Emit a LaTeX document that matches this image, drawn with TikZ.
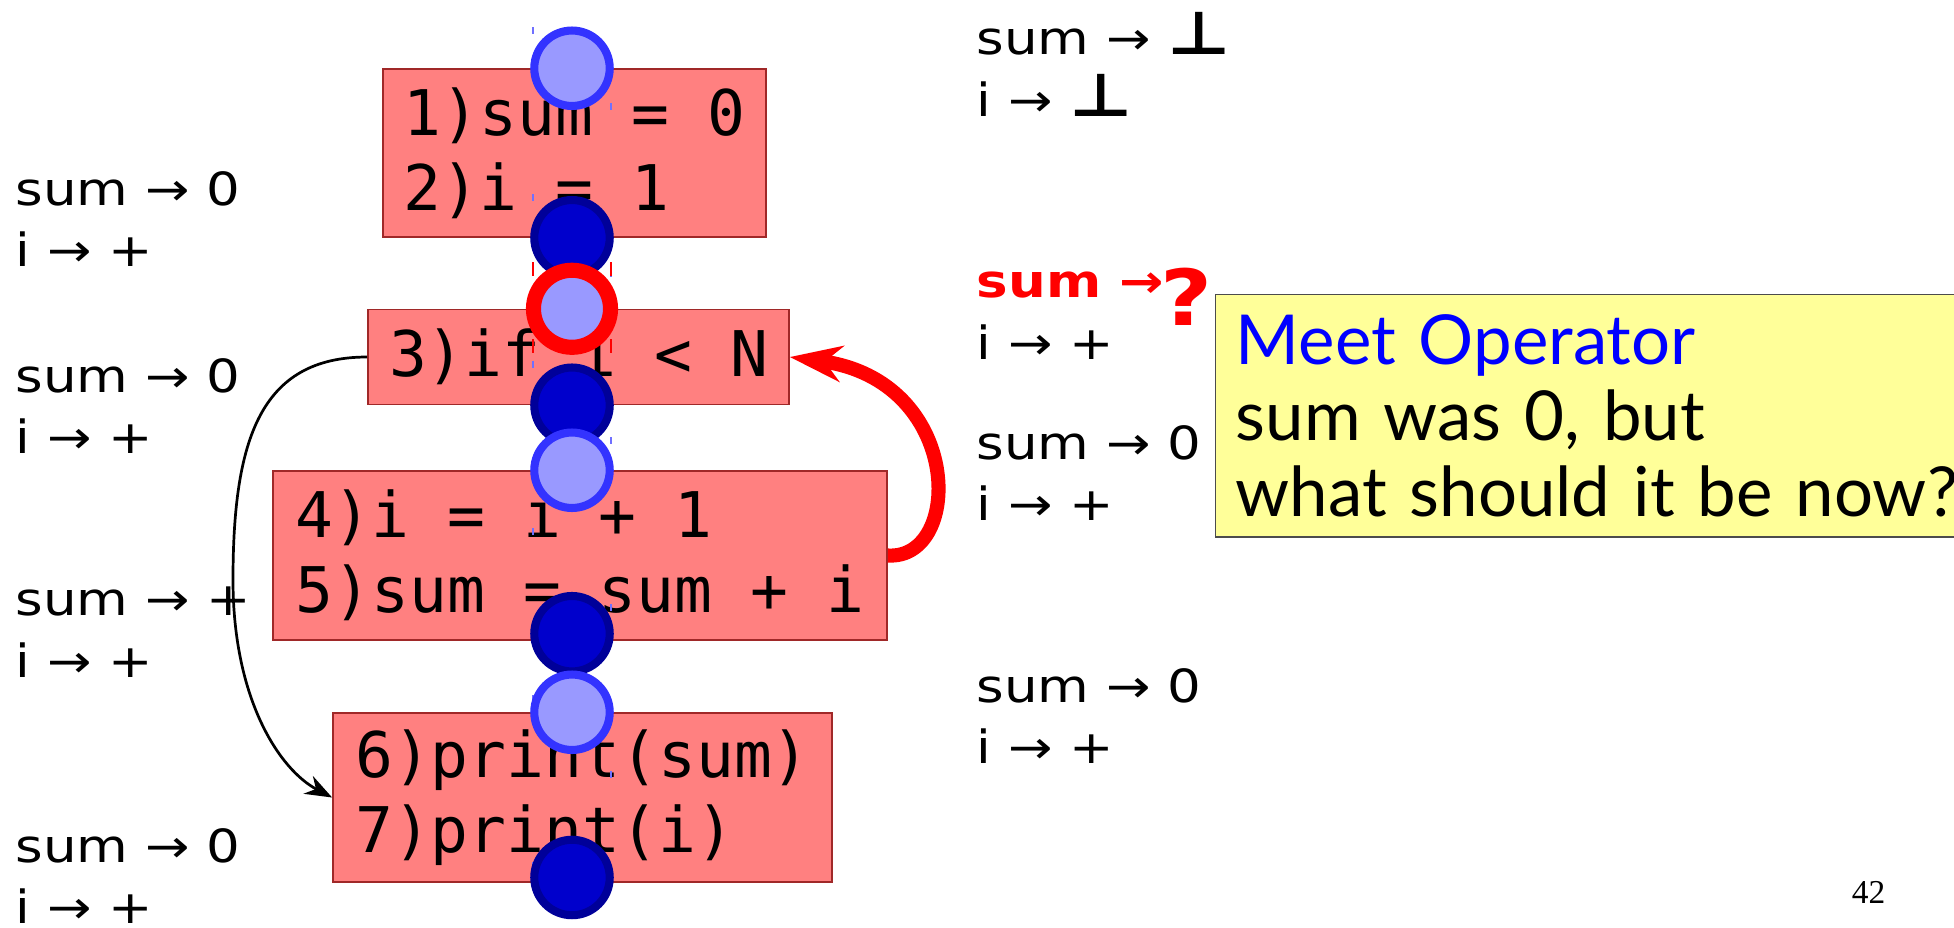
\documentclass[tikz,border=0pt]{standalone}
\usepackage{fontspec}
\setmainfont{Lato}
\newfontfamily\codefont{DejaVu Sans Mono}
\newfontfamily\factfont{DejaVu Sans}[FakeStretch=1.16]
\newfontfamily\pagefont{Liberation Serif}
\usetikzlibrary{arrows.meta}

\definecolor{boxred}{HTML}{FF8080}
\definecolor{boxedge}{HTML}{A02828}
\definecolor{lightdot}{HTML}{9999FF}
\definecolor{lightedge}{HTML}{3333FF}
\definecolor{darkdot}{HTML}{0000CC}
\definecolor{darkedge}{HTML}{000099}
\definecolor{notepad}{HTML}{FFFF99}

\newcommand{\btm}{{\bfseries\fontsize{17pt}{17pt}\selectfont ⊥}}

\tikzset{
  cell/.style={draw=boxedge, fill=boxred, line width=0.4pt, inner xsep=0pt,
    align=left, font=\codefont\fontsize{17.9pt}{21.3pt}\selectfont,
    execute at begin node={\spaceskip=0.602em\xspaceskip=0.602em\relax}},
  entrydot/.style={circle, draw=lightedge, fill=lightdot, line width=2.3pt,
    minimum size=0.754cm, inner sep=0pt},
  exitdot/.style={entrydot, draw=darkedge, fill=darkdot},
  joindot/.style={entrydot, draw=red, line width=4.3pt, minimum size=0.77cm},
  fact/.style={inner sep=0pt, anchor=west, align=left,
    font=\factfont\fontsize{13pt}{17.6pt}\selectfont},
  guide/.style={lightedge!70, line width=0.3pt, dash pattern=on 2pt off 45.5pt}
}

\begin{document}
\begin{tikzpicture}[x=0.01cm, y=-0.01cm]
  \useasboundingbox (0,0) rectangle (1954,927);
  \coordinate (axis) at (572,0);

  % statements
  \node[cell, minimum width=3.83cm, minimum height=1.68cm] (b1) at (574.5,153)
    {1)sum = 0\\2)i = 1};
  \node[cell, minimum width=4.21cm, minimum height=0.95cm] (b3) at (578.5,357)
    {3)if i < N};
  \node[cell, minimum width=6.14cm, minimum height=1.69cm] (b4) at (580,555.5)
    {4)i = i + 1\\5)sum = sum + i};
  \node[cell, minimum width=4.99cm, minimum height=1.69cm] (b6) at (582.5,797.5)
    {6)print(sum)\\7)print(i)};

  \draw[guide] (533,27) -- (533,927);
  \draw[guide] (611,103) -- (611,927);
  \draw[red, line width=0.3pt, dash pattern=on 4pt off 18pt] (533,262) -- (533,360);
  \draw[red, line width=0.3pt, dash pattern=on 4pt off 18pt] (611,262) -- (611,360);

  % edges
  \draw[-{Stealth[length=0.27cm, width=0.2cm]}, line width=0.77pt]
    (b3.west) .. controls (260,357) and (233,440) .. (233,580)
    .. controls (233,700) and (280,770) .. (b6.west);
  \draw[-{Stealth[length=0.52cm, width=0.36cm]}, red, line width=4pt]
    (b4.east) .. controls (964,560) and (964,380) .. (b3.east);

  % program points
  \node[entrydot] (p1) at (b1.north -| axis) {};
  \node[exitdot] (p2) at (b1.south -| axis) {};
  \node[joindot] (p3) at (b3.north -| axis) {};
  \node[exitdot] (p4) at (b3.south -| axis) {};
  \node[entrydot] (p5) at (b4.north -| axis) {};
  \node[exitdot, yshift=2pt] (p6) at (b4.south -| axis) {};
  \node[entrydot] (p7) at (b6.north -| axis) {};
  \node[exitdot, yshift=1.5pt] (p8) at (b6.south -| axis) {};

  % facts on the left
  \node[fact] (l1) at (15,219) {sum → 0\\i → +};
  \node[fact] (l2) at (15,406) {sum → 0\\i → +};
  \node[fact] (l3) at (15,632) {sum → +\\i → +};
  \node[fact] (l4) at (15,876) {sum → 0\\i → +};

  % facts on the right
  \node[fact] (r1) at (976,64) {sum → \btm\\i → \btm};
  \node[fact] (r2) at (976,316) {{\color{red}\bfseries sum →}\hspace{-1pt}%
    \smash{\raisebox{-8pt}{\color{red}\bfseries\fontsize{22pt}{22pt}\selectfont ?}}\\i → +};
  \node[fact] (r3) at (976,473) {sum → 0\\i → +};
  \node[fact] (r4) at (976,716) {sum → 0\\i → +};

  \node[draw=black!70, fill=notepad, anchor=north west, minimum width=7.9cm,
    minimum height=2.42cm, inner xsep=0.19cm, text width=7.5cm, align=left,
    font=\fontsize{19.6pt}{21.5pt}\selectfont] (note) at (1215,294)
    {{\color{blue}Meet Operator}\\sum was 0, but\\what should it be now?};

  \node[anchor=base east, inner sep=0pt, font=\pagefont\fontsize{9.5pt}{10pt}\selectfont]
    (page) at (1886,903) {42};
\end{tikzpicture}
\end{document}
